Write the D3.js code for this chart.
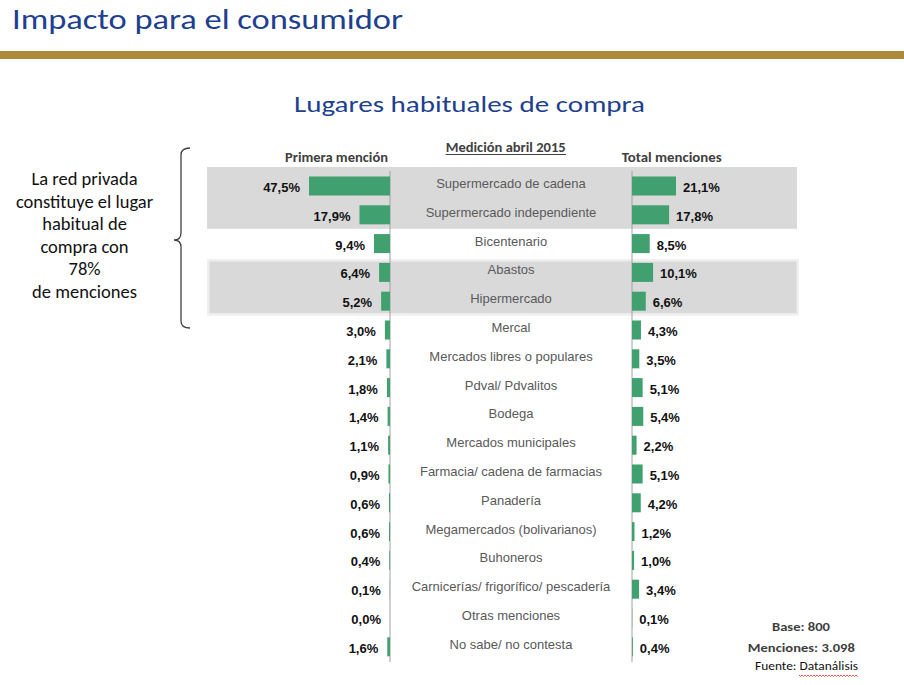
<!DOCTYPE html>
<html lang="es">
<head>
    <meta charset="UTF-8">
    <title>Lugares habituales de compra</title>
    <script src="https://d3js.org/d3.v7.min.js"></script>
    <style>
        body {
            margin: 0;
            padding: 0;
            background-color: #ffffff;
        }
        svg {
            display: block;
        }
        .calibri {
            font-family: Carlito, Lato, 'Open Sans', sans-serif;
        }
        .arial {
            font-family: 'Liberation Sans', Arial, sans-serif;
        }
        .title {
            fill: #203f8f;
        }
        .header {
            font-size: 13px;
            font-weight: bold;
            fill: #404040;
        }
        .cat-label {
            font-size: 13px;
            fill: #595959;
            text-anchor: middle;
        }
        .value-label {
            font-size: 13px;
            font-weight: bold;
            fill: #111111;
        }
    </style>
</head>
<body>
    <svg width="904" height="685"></svg>

    <script>
        const categories = [
            "Supermercado de cadena",
            "Supermercado independiente",
            "Bicentenario",
            "Abastos",
            "Hipermercado",
            "Mercal",
            "Mercados libres o populares",
            "Pdval/ Pdvalitos",
            "Bodega",
            "Mercados municipales",
            "Farmacia/ cadena de farmacias",
            "Panadería",
            "Megamercados (bolivarianos)",
            "Buhoneros",
            "Carnicerías/ frigorífico/ pescadería",
            "Otras menciones",
            "No sabe/ no contesta"
        ];
        const primeraMencion = [47.5, 17.9, 9.4, 6.4, 5.2, 3.0, 2.1, 1.8, 1.4, 1.1, 0.9, 0.6, 0.6, 0.4, 0.1, 0.0, 1.6];
        const totalMenciones = [21.1, 17.8, 8.5, 10.1, 6.6, 4.3, 3.5, 5.1, 5.4, 2.2, 5.1, 4.2, 1.2, 1.0, 3.4, 0.1, 0.4];
        const noteLines = ["La red privada", "constituye el lugar", "habitual de", "compra con", "78%", "de menciones"];
        const highlightGroups = [
            ["Supermercado de cadena", "Supermercado independiente"],
            ["Abastos", "Hipermercado"]
        ];

        const rows = categories.map(function(c, i) {
            return { cat: c, first: primeraMencion[i], total: totalMenciones[i] };
        });

        const svg = d3.select("svg");
        const width = +svg.attr("width");

        const es = d3.formatLocale({ decimal: ",", thousands: ".", grouping: [3], currency: ["", ""] });
        const pct = es.format(".1f");

        const leftAxisX = 390;
        const rightAxisX = 632;

        const yScale = d3.scaleBand()
                         .domain(categories)
                         .range([171.6, 661.2])
                         .paddingInner(0.34)
                         .paddingOuter(0.17);

        const xLeft = d3.scaleLinear()
                        .domain([0, 47.5])
                        .range([leftAxisX, 309]);

        const xRight = d3.scaleLinear()
                         .domain([0, 21.1])
                         .range([rightAxisX, 676]);

        const center = function(c) { return yScale(c) + yScale.bandwidth() / 2; };

        // Slide title + gold rule
        svg.append("text")
           .attr("class", "calibri title")
           .attr("x", 12)
           .attr("y", 28.5)
           .attr("font-size", 28.5)
           .attr("textLength", 391)
           .attr("lengthAdjust", "spacingAndGlyphs")
           .text("Impacto para el consumidor");

        svg.append("rect")
           .attr("x", 0)
           .attr("y", 51)
           .attr("width", width)
           .attr("height", 8)
           .attr("fill", "#ab8a3a");

        svg.append("text")
           .attr("class", "calibri title")
           .attr("x", 469.5)
           .attr("y", 111.5)
           .attr("font-size", 23)
           .attr("text-anchor", "middle")
           .attr("textLength", 351)
           .attr("lengthAdjust", "spacingAndGlyphs")
           .text("Lugares habituales de compra");

        // Column headers
        svg.append("text")
           .attr("class", "calibri header")
           .attr("x", 285)
           .attr("y", 161.7)
           .attr("textLength", 103)
           .attr("lengthAdjust", "spacingAndGlyphs")
           .text("Primera mención");

        svg.append("text")
           .attr("class", "calibri header")
           .attr("x", 445.7)
           .attr("y", 151.7)
           .attr("textLength", 120)
           .attr("lengthAdjust", "spacingAndGlyphs")
           .text("Medición abril 2015");

        svg.append("line")
           .attr("x1", 445.7)
           .attr("x2", 566)
           .attr("y1", 154.5)
           .attr("y2", 154.5)
           .attr("stroke", "#404040")
           .attr("stroke-width", 1);

        svg.append("text")
           .attr("class", "calibri header")
           .attr("x", 621.7)
           .attr("y", 161.7)
           .attr("textLength", 100)
           .attr("lengthAdjust", "spacingAndGlyphs")
           .text("Total menciones");

        // Grey highlight bands
        const g1 = highlightGroups[0];
        svg.append("rect")
           .attr("x", 207)
           .attr("y", center(g1[0]) - 19)
           .attr("width", 590)
           .attr("height", center(g1[1]) + 14 - (center(g1[0]) - 19))
           .attr("fill", "#d9d9d9");

        const g2 = highlightGroups[1];
        svg.append("rect")
           .attr("x", 208.2)
           .attr("y", center(g2[0]) - 12.2)
           .attr("width", 589.6)
           .attr("height", center(g2[1]) + 13.2 - (center(g2[0]) - 12.2))
           .attr("fill", "#d9d9d9")
           .attr("stroke", "#efefef")
           .attr("stroke-width", 2.5);

        // Axis lines
        [leftAxisX, rightAxisX].forEach(function(x) {
            svg.append("line")
               .attr("x1", x)
               .attr("x2", x)
               .attr("y1", 171)
               .attr("y2", 662)
               .attr("stroke", "#a0a0a0")
               .attr("stroke-width", 1);
        });

        // Bars
        svg.selectAll(".bar-left")
           .data(rows)
           .enter()
           .append("rect")
           .attr("class", "bar-left")
           .attr("x", function(d) { return xLeft(d.first); })
           .attr("y", function(d) { return yScale(d.cat); })
           .attr("width", function(d) { return leftAxisX - xLeft(d.first); })
           .attr("height", yScale.bandwidth())
           .attr("fill", "#40a06f");

        svg.selectAll(".bar-right")
           .data(rows)
           .enter()
           .append("rect")
           .attr("class", "bar-right")
           .attr("x", rightAxisX)
           .attr("y", function(d) { return yScale(d.cat); })
           .attr("width", function(d) { return xRight(d.total) - rightAxisX; })
           .attr("height", yScale.bandwidth())
           .attr("fill", "#40a06f");

        // Labels
        svg.selectAll(".cat-label")
           .data(rows)
           .enter()
           .append("text")
           .attr("class", "arial cat-label")
           .attr("x", (leftAxisX + rightAxisX) / 2)
           .attr("y", function(d) { return center(d.cat) + 2; })
           .text(function(d) { return d.cat; });

        svg.selectAll(".value-left")
           .data(rows)
           .enter()
           .append("text")
           .attr("class", "arial value-label value-left")
           .attr("x", function(d) { return xLeft(d.first) - 9; })
           .attr("y", function(d) { return center(d.cat) + 6; })
           .attr("text-anchor", "end")
           .text(function(d) { return pct(d.first) + "%"; });

        svg.selectAll(".value-right")
           .data(rows)
           .enter()
           .append("text")
           .attr("class", "arial value-label value-right")
           .attr("x", function(d) { return xRight(d.total) + 7; })
           .attr("y", function(d) { return center(d.cat) + 6; })
           .attr("text-anchor", "start")
           .text(function(d) { return pct(d.total) + "%"; });

        // Side note with brace
        svg.append("path")
           .attr("d", "M190,148 Q181,148 181,155 L181,233 Q181,240 174,240 Q181,240 181,247 L181,321 Q181,328 190,328")
           .attr("fill", "none")
           .attr("stroke", "#404040")
           .attr("stroke-width", 1.3);

        svg.append("text")
           .attr("class", "calibri")
           .attr("font-size", 18.5)
           .attr("fill", "#111111")
           .attr("text-anchor", "middle")
           .selectAll("tspan")
           .data(noteLines)
           .enter()
           .append("tspan")
           .attr("x", 84.5)
           .attr("y", function(d, i) { return 185 + i * 22.5; })
           .text(function(d) { return d; });

        // Base / source notes
        svg.append("text")
           .attr("class", "calibri")
           .attr("x", 801)
           .attr("y", 630.7)
           .attr("text-anchor", "middle")
           .attr("font-size", 12.5)
           .attr("font-weight", "bold")
           .attr("fill", "#404040")
           .attr("textLength", 58)
           .attr("lengthAdjust", "spacingAndGlyphs")
           .text("Base: 800");

        svg.append("text")
           .attr("class", "calibri")
           .attr("x", 801.3)
           .attr("y", 651.7)
           .attr("text-anchor", "middle")
           .attr("font-size", 12.5)
           .attr("font-weight", "bold")
           .attr("fill", "#404040")
           .attr("textLength", 107)
           .attr("lengthAdjust", "spacingAndGlyphs")
           .text("Menciones: 3.098");

        svg.append("text")
           .attr("class", "calibri")
           .attr("x", 806.5)
           .attr("y", 670)
           .attr("text-anchor", "middle")
           .attr("font-size", 11.5)
           .attr("fill", "#111111")
           .attr("textLength", 103)
           .attr("lengthAdjust", "spacingAndGlyphs")
           .text("Fuente: Datanálisis");

        // spell-check squiggle under "Datanálisis"
        const squiggle = d3.range(799, 858.5, 1.5).map(function(x, i) {
            return [x, i % 2 === 0 ? 675 : 676.5];
        });
        svg.append("path")
           .attr("d", d3.line()(squiggle))
           .attr("fill", "none")
           .attr("stroke", "#e03030")
           .attr("stroke-width", 0.8);
    </script>
</body>
</html>
